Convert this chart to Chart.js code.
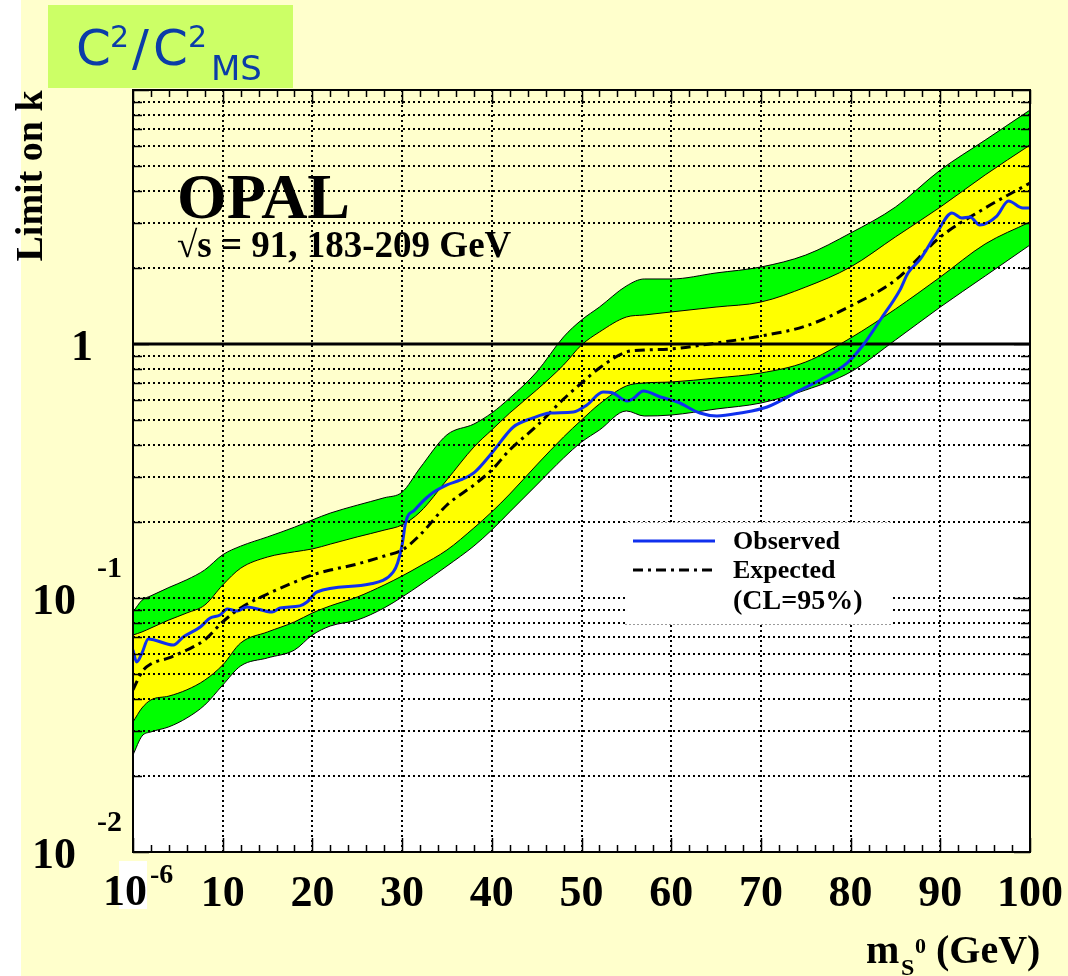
<!DOCTYPE html>
<html>
<head>
<meta charset="utf-8">
<title>OPAL limit on k</title>
<script src="https://cdn.jsdelivr.net/npm/chart.js@4.4.0/dist/chart.umd.min.js"></script>
<style>
  html, body { margin: 0; padding: 0; background: #ffffcc; }
  canvas { display: block; }
</style>
</head>
<body>
<canvas id="limitChart" width="1068" height="976"></canvas>
<script>
// mass points (GeV) shared by the expected curve and the 1/2 sigma bands
const massGrid = [0, 1, 2, 4, 6, 8, 10, 12, 15, 18, 20, 22, 25, 28, 30, 32, 35, 38, 40, 42,
  45, 48, 50, 52, 55, 57, 60, 65, 70, 75, 80, 85, 90, 95, 100];

const greenTop = [0.088, 0.098, 0.102, 0.110, 0.118, 0.129, 0.148, 0.160, 0.174, 0.190, 0.203,
  0.216, 0.232, 0.248, 0.261, 0.325, 0.439, 0.484, 0.535, 0.613, 0.776, 1.066, 1.243, 1.398,
  1.692, 1.803, 1.803, 1.904, 2.01, 2.24, 2.735, 3.46, 4.84, 6.35, 8.34];

const yellowTop = [0.0715, 0.0735, 0.0762, 0.0819, 0.0873, 0.0938, 0.1125, 0.131, 0.145, 0.152,
  0.156, 0.163, 0.174, 0.185, 0.194, 0.218, 0.292, 0.393, 0.459, 0.535, 0.659, 0.827, 0.991,
  1.115, 1.277, 1.301, 1.337, 1.398, 1.463, 1.676, 2.01, 2.64, 3.46, 4.63, 6.07];

const expected = [0.0435, 0.0512, 0.055, 0.0581, 0.0624, 0.0684, 0.0805, 0.0914, 0.1037, 0.1156,
  0.1233, 0.1288, 0.1361, 0.1463, 0.1545, 0.1771, 0.2323, 0.2786, 0.3191, 0.3828, 0.4755,
  0.6072, 0.7022, 0.8044, 0.930, 0.947, 0.956, 1.009, 1.075, 1.177, 1.411, 1.786, 2.638,
  3.43, 4.305];

const yellowBottom = [0.0325, 0.0369, 0.0397, 0.0411, 0.0435, 0.0475, 0.0545, 0.0665, 0.0735,
  0.0805, 0.0873, 0.0931, 0.1009, 0.1125, 0.1221, 0.1336, 0.1545, 0.1887, 0.2183, 0.2566,
  0.334, 0.4305, 0.502, 0.5806, 0.6837, 0.7022, 0.7086, 0.7348, 0.769, 0.8495, 1.056, 1.373,
  1.835, 2.476, 3.022];

const greenBottom = [0.0241, 0.0286, 0.0297, 0.0311, 0.0337, 0.0379, 0.0454, 0.054, 0.0581,
  0.0624, 0.0715, 0.0776, 0.0819, 0.0914, 0.1009, 0.1125, 0.1336, 0.1602, 0.1853, 0.2183,
  0.2786, 0.3558, 0.4111, 0.4585, 0.5449, 0.5206, 0.5253, 0.5546, 0.5857, 0.659, 0.776,
  1.037, 1.398, 1.852, 2.454];

// observed limit
const obsMass = [0, 0.4, 1.0, 1.7, 4.5, 5.6, 7.5, 8.6, 9.7, 10.5, 11.6, 12.7, 15.5, 16.4, 18.6,
  19.4, 20.5, 26.4, 29.0, 29.5, 30.0, 30.4, 31.4, 33.1, 35.0, 36.5, 38.1, 40.1, 42.4, 44.6,
  46.5, 49.1, 50.6, 52.4, 53.5, 55.1, 55.7, 56.9, 58.8, 60.7, 63.2, 65.1, 67.7, 70.7, 74.4,
  76.6, 79.6, 81.4, 83.3, 85.5, 86.4, 87.7, 89.6, 91.3, 92.4, 93.3, 94.4, 96.3, 97.6, 99.2, 100];
const obsLimit = [0.0624, 0.0560, 0.0607, 0.0690, 0.0653, 0.0702, 0.0769, 0.0834, 0.0857,
  0.0905, 0.0889, 0.0922, 0.0881, 0.0914, 0.0931, 0.0964, 0.1056, 0.1135, 0.1265, 0.1374,
  0.1617, 0.1991, 0.2220, 0.2545, 0.2786, 0.2915, 0.3133, 0.3758, 0.4713, 0.5117, 0.535,
  0.5395, 0.5754, 0.6471, 0.6412, 0.5965, 0.6073, 0.653, 0.6185, 0.5911, 0.535, 0.5206,
  0.535, 0.5649, 0.659, 0.7215, 0.8417, 0.991, 1.243, 1.632, 1.904, 2.142, 2.735, 3.28,
  3.133, 3.162, 2.941, 3.19, 3.656, 3.43, 3.43];

// reference line at k = 1
const unityMass = [0, 100];
const unityLimit = [1, 1];

// axis ticks and labels
const xMajorTicks = [0, 10, 20, 30, 40, 50, 60, 70, 80, 90, 100];
const xLabels = ['10', '20', '30', '40', '50', '60', '70', '80', '90', '100'];
const xMinorStep = 2;
const yDecades = [0.01, 0.1, 1];
const yLabels = [{ v: 0.01, exp: '-2' }, { v: 0.1, exp: '-1' }, { v: 1, exp: null }];

const yTickValues = [];
yDecades.forEach(d => {
  for (let s = 1; s <= 9; s++) yTickValues.push(+(d * s).toPrecision(3));
});
yTickValues.push(10);

const PAGE = '#ffffcc';
const SERIF = '"Liberation Serif", "Times New Roman", serif';

const pts = (xs, ys) => xs.map((x, i) => ({ x: x, y: ys[i] }));

function serif(ctx, size) {
  ctx.font = 'bold ' + size + 'px ' + SERIF;
}

const decorations = {
  id: 'decorations',
  beforeDraw(chart) {
    const { ctx, chartArea: a, width, height } = chart;
    ctx.save();
    ctx.fillStyle = PAGE;
    ctx.fillRect(0, 0, width, height);
    ctx.fillStyle = '#ffffff';
    ctx.fillRect(0, 0, 21, height);
    ctx.fillRect(a.left, a.top, a.right - a.left, a.bottom - a.top);

    // coupling label box
    ctx.fillStyle = '#ccff66';
    ctx.fillRect(48, 5, 245, 83);
    ctx.fillStyle = '#0b3ca8';
    ctx.textBaseline = 'alphabetic';
    const comic = '"Comic Sans MS", "DejaVu Sans", sans-serif';
    ctx.font = '50px ' + comic;
    ctx.fillText('C', 76, 65);
    ctx.fillText('/', 132, 65);
    ctx.fillText('C', 153, 65);
    ctx.font = '30px ' + comic;
    ctx.fillText('2', 110, 47);
    ctx.fillText('2', 188, 47);
    ctx.font = '34px ' + comic;
    ctx.fillText('MS', 211, 80);
    ctx.restore();
  },
  afterDraw(chart) {
    const { ctx, chartArea: a } = chart;
    const xs = chart.scales.x;
    const ys = chart.scales.y;
    ctx.save();

    // legend box
    const lx = 625, ly = 522, lw = 268, lh = 103;
    ctx.fillStyle = '#ffffff';
    ctx.fillRect(lx, ly, lw, lh);
    ctx.strokeStyle = '#9a9a9a';
    ctx.lineWidth = 1;
    ctx.setLineDash([2, 2]);
    ctx.beginPath();
    ctx.moveTo(lx, ly + 0.5); ctx.lineTo(lx + lw, ly + 0.5);
    ctx.moveTo(lx, ly + lh - 0.5); ctx.lineTo(lx + lw, ly + lh - 0.5);
    ctx.stroke();
    ctx.setLineDash([]);
    ctx.strokeStyle = '#1030ee';
    ctx.lineWidth = 3;
    ctx.beginPath(); ctx.moveTo(633, 541); ctx.lineTo(715, 541); ctx.stroke();
    ctx.strokeStyle = '#000';
    ctx.setLineDash([10, 5, 3, 5]);
    ctx.beginPath(); ctx.moveTo(633, 570); ctx.lineTo(715, 570); ctx.stroke();
    ctx.setLineDash([]);
    ctx.fillStyle = '#000';
    serif(ctx, 26);
    ctx.textAlign = 'left';
    ctx.fillText('Observed', 733, 549);
    ctx.fillText('Expected', 733, 578);
    serif(ctx, 28);
    ctx.fillText('(CL=95%)', 733, 609);

    // frame
    ctx.lineWidth = 2;
    ctx.strokeStyle = '#000';
    ctx.strokeRect(a.left, a.top, a.right - a.left, a.bottom - a.top);

    // inward tick marks on all four sides
    ctx.lineWidth = 1.5;
    ctx.beginPath();
    yTickValues.forEach(v => {
      const py = Math.round(ys.getPixelForValue(v)) + 0.5;
      const major = yDecades.includes(v) || v === 10;
      const len = major ? 16 : 9;
      ctx.moveTo(a.left, py); ctx.lineTo(a.left + len, py);
      ctx.moveTo(a.right, py); ctx.lineTo(a.right - len, py);
    });
    for (let m = 0; m <= 100; m += xMinorStep) {
      const px = Math.round(xs.getPixelForValue(m)) + 0.5;
      const len = m % 10 === 0 ? 14 : 7;
      ctx.moveTo(px, a.bottom); ctx.lineTo(px, a.bottom - len);
      ctx.moveTo(px, a.top); ctx.lineTo(px, a.top + len);
    }
    ctx.stroke();

    // x tick labels
    ctx.fillStyle = '#000';
    serif(ctx, 44);
    ctx.textAlign = 'center';
    xLabels.forEach((t, i) => {
      ctx.fillText(t, xs.getPixelForValue(xMajorTicks[i + 1]), 906);
    });
    // first x label reads 10^-6
    const x0 = xs.getPixelForValue(0);
    ctx.fillStyle = '#ffffff';
    ctx.fillRect(x0 - 14, 861, 28, 48);
    ctx.fillStyle = '#000';
    ctx.textAlign = 'right';
    ctx.fillText('10', x0 + 14, 905);
    serif(ctx, 28);
    ctx.textAlign = 'left';
    ctx.fillText('-6', x0 + 17, 883);

    // y tick labels
    yLabels.forEach(l => {
      const py = ys.getPixelForValue(l.v);
      serif(ctx, 44);
      if (l.exp === null) {
        ctx.textAlign = 'right';
        ctx.fillText('1', 93, py + 16);
      } else {
        ctx.textAlign = 'left';
        ctx.fillText('10', 32, py + 16);
        serif(ctx, 30);
        ctx.fillText(l.exp, 97, py - 21);
      }
    });

    // axis titles
    serif(ctx, 38);
    ctx.save();
    ctx.translate(42, 176);
    ctx.rotate(-Math.PI / 2);
    ctx.textAlign = 'center';
    ctx.fillText('Limit on k', 0, 0);
    ctx.restore();

    ctx.textAlign = 'left';
    serif(ctx, 40);
    ctx.fillText('m', 866, 963);
    ctx.fillText('(GeV)', 936, 963);
    serif(ctx, 24);
    ctx.fillText('S', 901, 975);
    serif(ctx, 22);
    ctx.fillText('0', 915, 953);

    // experiment label
    serif(ctx, 64);
    ctx.fillText('OPAL', 177, 218);
    serif(ctx, 37);
    ctx.fillText('\u221As = 91, 183-209 GeV', 177, 257);

    ctx.restore();
  }
};

const smooth = { pointRadius: 0, cubicInterpolationMode: 'monotone' };
const bandLine = Object.assign({ borderColor: '#000', borderWidth: 1 }, smooth);

new Chart(document.getElementById('limitChart'), {
  type: 'line',
  data: {
    datasets: [
      Object.assign({ // region above the 2 sigma band
        label: 'above', data: pts(massGrid, greenTop), order: 10,
        borderWidth: 0, fill: 'end', backgroundColor: PAGE
      }, smooth),
      Object.assign({ label: 'green top', data: pts(massGrid, greenTop), order: 9,
        fill: 2, backgroundColor: '#00ff00' }, bandLine),
      Object.assign({ label: 'green bottom', data: pts(massGrid, greenBottom), order: 8,
        fill: false }, bandLine),
      Object.assign({ label: 'yellow top', data: pts(massGrid, yellowTop), order: 7,
        fill: 4, backgroundColor: '#ffff00' }, bandLine),
      Object.assign({ label: 'yellow bottom', data: pts(massGrid, yellowBottom), order: 6,
        fill: false }, bandLine),
      {
        label: 'k = 1', data: pts(unityMass, unityLimit), order: 4,
        borderColor: '#000', borderWidth: 3, pointRadius: 0, fill: false
      },
      Object.assign({
        label: 'Expected', data: pts(massGrid, expected), order: 3,
        borderColor: '#000', borderWidth: 3, borderDash: [10, 5, 3, 5], fill: false
      }, smooth),
      Object.assign({
        label: 'Observed', data: pts(obsMass, obsLimit), order: 2,
        borderColor: '#1030ee', borderWidth: 3, fill: false
      }, smooth)
    ]
  },
  options: {
    responsive: false,
    animation: false,
    layout: { padding: { left: 0, right: 38, top: 90, bottom: 0 } },
    plugins: { legend: { display: false }, tooltip: { enabled: false } },
    scales: {
      x: {
        type: 'linear', min: 0, max: 100,
        afterFit: s => { s.height = 124; },
        afterBuildTicks: s => { s.ticks = xMajorTicks.map(v => ({ value: v })); },
        ticks: { display: false },
        grid: {
          z: 1, drawTicks: false, lineWidth: 2,
          color: c => (c.tick && (c.tick.value === 0 || c.tick.value === 100)) ? 'rgba(0,0,0,0)' : '#000'
        },
        border: { display: false, dash: [2, 3] }
      },
      y: {
        type: 'logarithmic', min: 0.01, max: 10,
        afterFit: s => { s.width = 133; },
        afterBuildTicks: s => { s.ticks = yTickValues.map(v => ({ value: v })); },
        ticks: { display: false },
        grid: {
          z: 1, drawTicks: false, lineWidth: 2,
          color: c => (c.tick && [0.01, 1, 10].includes(c.tick.value)) ? 'rgba(0,0,0,0)' : '#000'
        },
        border: { display: false, dash: [2, 3] }
      }
    }
  },
  plugins: [decorations]
});
</script>
</body>
</html>
